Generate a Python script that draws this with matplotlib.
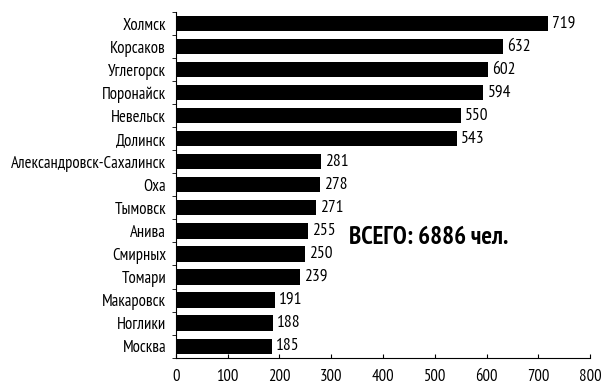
import matplotlib
matplotlib.use("Agg")
import matplotlib.pyplot as plt
from matplotlib import font_manager as fm
import numpy as np

cities = ["Холмск", "Корсаков", "Углегорск", "Поронайск", "Невельск", "Долинск",
          "Александровск-Сахалинск", "Оха", "Тымовск", "Анива", "Смирных", "Томари",
          "Макаровск", "Ноглики", "Москва"]
values = [719, 632, 602, 594, 550, 543, 281, 278, 271, 255, 250, 239, 191, 188, 185]
xticks = [0, 100, 200, 300, 400, 500, 600, 700, 800]
total_text = "ВСЕГО: 6886 чел."

names = {f.name for f in fm.fontManager.ttflist}
fam = "DejaVu Sans"
for cand in ["PT Sans Narrow", "Roboto Condensed", "Fira Sans Condensed",
             "Open Sans Condensed", "Archivo Narrow", "Asap Condensed"]:
    if cand in names:
        fam = cand
        break
plt.rcParams["font.family"] = [fam, "DejaVu Sans"]

fig = plt.figure(figsize=(6.04, 3.88), dpi=100)
ax = fig.add_axes([0.291, 0.077, 0.686, 0.892])

y = np.arange(len(cities))
ax.barh(y, values, height=0.66, color="black")
for yi, v in zip(y, values):
    ax.text(v + 8, yi, str(v), va="center", ha="left", fontsize=12.5,
            fontweight="medium")

ax.set_xlim(0, 800)
ax.set_ylim(14.52, -0.45)
ax.set_yticks(y)
ax.set_yticklabels(cities, fontsize=12, fontweight="medium")
ax.set_yticks(np.arange(-0.5, len(cities), 1), minor=True)
ax.tick_params(axis="y", which="major", length=0, pad=7)
ax.tick_params(axis="y", which="minor", length=3, direction="out")
ax.set_xticks(xticks)
ax.set_xticklabels([str(t) for t in xticks], fontsize=12, fontweight="medium")
ax.tick_params(axis="x", direction="in", length=3, pad=8)
ax.spines["top"].set_visible(False)
ax.spines["right"].set_visible(False)

ax.text(349 / 604, 1 - 237 / 388, total_text, transform=fig.transFigure,
        fontsize=18, fontweight="bold", va="center", ha="left")

fig.savefig("out.png", dpi=100)
